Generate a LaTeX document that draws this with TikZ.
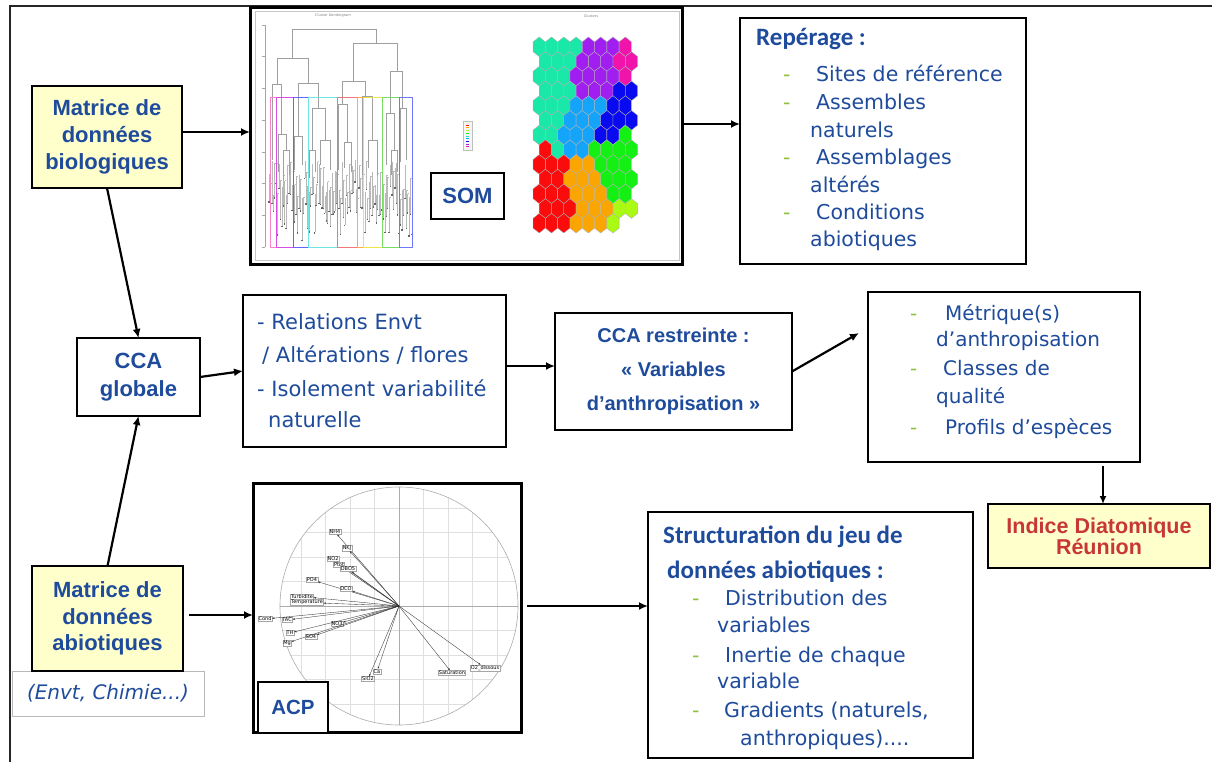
\documentclass[tikz,border=0pt]{standalone}
\usepackage{fontspec}
\setmainfont{DejaVu Sans}
\newfontfamily\lib{Liberation Sans}
\newfontfamily\cbr{Carlito}
\usetikzlibrary{arrows.meta}
\definecolor{tblue}{RGB}{30,75,155}
\definecolor{dgreen}{RGB}{140,195,60}
\definecolor{tred}{RGB}{200,55,55}
\definecolor{yfill}{RGB}{255,255,204}
\definecolor{hT}{RGB}{25,232,168}
\definecolor{hP}{RGB}{160,30,240}
\definecolor{hM}{RGB}{240,20,170}
\definecolor{hB}{RGB}{10,10,240}
\definecolor{hL}{RGB}{20,165,250}
\definecolor{hR}{RGB}{250,12,12}
\definecolor{hO}{RGB}{250,165,0}
\definecolor{hG}{RGB}{20,240,20}
\definecolor{hY}{RGB}{170,250,20}
\newcommand{\dbr}[5]{\draw[dend] (#1,#4) -- (#1,#3) -- (#2,#3) -- (#2,#5);}
\begin{document}
\begin{tikzpicture}[x=1pt,y=-1pt,
  box/.style={draw=black, line width=2.6pt, fill=white, inner sep=0pt, outer sep=0pt},
  ybox/.style={box, fill=yfill},
  arr/.style={line width=2.2pt, -{Latex[length=9pt,width=8pt]}},
  btitle/.style={font=\cbr\bfseries\fontsize{25}{30}\selectfont, text=tblue, anchor=base west, inner sep=0pt},
  item/.style={font=\fontsize{20.5}{24}\selectfont, text=tblue, anchor=base west, inner sep=0pt},
  dsh/.style={font=\fontsize{20.5}{24}\selectfont, text=dgreen, anchor=base west, inner sep=0pt},
  ctext/.style={font=\lib\bfseries\fontsize{22}{27}\selectfont, text=tblue, align=center},
  dend/.style={draw=gray!75, line width=0.5pt},
  pgrid/.style={draw=gray!25, line width=0.4pt},
  paxis/.style={draw=gray!65, line width=0.6pt},
  plab/.style={draw=gray!70, fill=white, font=\fontsize{5}{5.5}\selectfont, inner sep=0.6pt, line width=0.3pt},
  parr/.style={draw=black!80, line width=0.35pt, -{Stealth[length=2.5pt,width=1.8pt]}}
]
\useasboundingbox (0,0) rectangle (1218,762);
\fill[white] (0,0) rectangle (1218,762);
% outer frame
\draw[line width=1.8pt, black!85] (10,762) -- (10,6) -- (1212,6);

% ---------- boxes ----------
\node[ybox, ctext, minimum width=150pt, minimum height=102pt] (bio) at (107,137) {Matrice de\\données\\biologiques};
\node[box, line width=3pt, minimum width=432pt, minimum height=256pt] (som) at (466,136) {};
\node[box, minimum width=286pt, minimum height=246pt] (rep) at (883,141) {};
\node[box, ctext, font=\lib\bfseries\fontsize{22}{28}\selectfont, minimum width=123pt, minimum height=78pt] (cca) at (138.5,377) {CCA\\globale};
\node[box, minimum width=263pt, minimum height=152pt] (rel) at (374.5,371) {};
\node[box, ctext, font=\lib\bfseries\fontsize{20}{34}\selectfont, minimum width=237pt, minimum height=117pt] (ccar) at (673.5,371.5) {CCA restreinte :\\«~Variables\\d’anthropisation~»};
\node[box, minimum width=272pt, minimum height=170pt] (met) at (1004,377) {};
\node[ybox, ctext, font=\lib\bfseries\fontsize{21.5}{21}\selectfont, text=tred, minimum width=222pt, minimum height=64pt] (idr) at (1099,536) {Indice Diatomique\\Réunion};
\node[box, line width=3pt, minimum width=268pt, minimum height=249pt] (acp) at (387,607.5) {};
\node[box, minimum width=325pt, minimum height=246pt] (str) at (810.5,635) {};
\node[draw=gray!55, line width=1pt, fill=white, minimum width=192pt, minimum height=45pt, inner sep=0pt,
      font=\itshape\fontsize{20}{24}\selectfont, text=tblue, text depth=4pt] (env) at (108,693.5) {(Envt, Chimie...)};
\node[ybox, ctext, font=\lib\bfseries\fontsize{22}{26.5}\selectfont, minimum width=151pt, minimum height=105pt] (abi) at (107.5,618.5) {Matrice de\\données\\abiotiques};

% ---------- SOM picture ----------
\draw[gray!45, line width=0.6pt] (255,11) rectangle (679,260);
\node[font=\fontsize{3.5}{4}\selectfont, text=gray, inner sep=0pt] (dtitle) at (333,16) {Cluster Dendrogram};
\node[font=\fontsize{3.5}{4}\selectfont, text=gray, inner sep=0pt] (htitle) at (591,16) {Clusters};
% dendrogram axis
\draw[gray!70, line width=0.5pt] (265,25) -- (265,247);
\foreach \t in {0,...,7} { \draw[gray!70, line width=0.5pt] (262,{25+31.7*\t}) -- (265,{25+31.7*\t}); }
% leaves
\pgfmathsetseed{12}
\foreach \i in {0,...,100} {
  \pgfmathsetmacro{\lx}{269+1.43*\i}
  \pgfmathsetmacro{\lt}{160+40*rnd}
  \pgfmathsetmacro{\lb}{\lt+15+28*rnd}
  \draw[dend, draw=gray!55] (\lx,\lt) -- (\lx,\lb);
  \draw[dend, draw=gray!55] (\lx,\lt) -- ({\lx+1.43},\lt);
  \fill[black!60] ({\lx-0.7},\lb) rectangle ({\lx+0.7},{\lb+1.4});
}
% brackets
\foreach \a/\b/\c/\d/\e in {292/376/29/58/43, 277/308/58/84/83, 272/281/84/160/134, 298/318/83/136/108,
  353/397/43/81/71, 342/365/81/104/96, 390/402/71/113/108, 278/286/134/172/150, 294/302/136/170/165,
  312/325/108/150/140, 338/347/104/170/142, 362/372/96/175/140, 386/394/113/165/150, 400/406/108/162/160,
  283/289/150/180/175, 320/330/140/165/170, 344/351/142/168/172, 368/377/140/168/175, 309/315/150/178/172,
  391/397/150/175/172} { \dbr{\a}{\b}{\c}{\d}{\e} }
% cluster rectangles
\foreach \a/\b/\col in {270/276/{255,130,200}, 276/293/{215,80,230}, 293/308/{100,100,255}, 308/337/{110,230,230},
  337/357/{240,120,120}, 357/363/{255,170,60}, 363/382/{240,228,80}, 382/399/{120,220,100}, 399/412/{110,120,250}} {
  \definecolor{tmpc}{RGB}{\col}
  \draw[tmpc, line width=0.7pt] (\a,97) rectangle (\b,247);
}
% legend
\draw[gray!50, fill=gray!8, line width=0.4pt] (463,121) rectangle (472,150);
\foreach \col [count=\j from 0] in {hR,hO,hY,hG,hT,hL,hB,hP,hM} { \draw[\col, line width=0.5pt] (466,{125+2.7*\j}) -- (469,{125+2.7*\j}); }
% hex map
\foreach \rc [count=\r from 0] in {
  {hT,hT,hT,hT,hP,hP,hP,hM},{hT,hT,hT,hP,hP,hP,hM,hM},{hT,hT,hT,hP,hP,hP,hP,hM},{hT,hT,hT,hP,hP,hP,hB,hB},
  {hT,hT,hT,hL,hL,hL,hB,hB},{hT,hT,hL,hL,hL,hB,hB,hB},{hT,hT,hL,hL,hL,hB,hB,hG},{hR,hT,hL,hL,hG,hG,hG,hG},
  {hR,hR,hR,hO,hO,hG,hG,hG},{hR,hR,hO,hO,hO,hG,hG,hG},{hR,hR,hR,hO,hO,hO,hG,hG},{hR,hR,hR,hO,hO,hO,hY,hY},
  {hR,hR,hR,hO,hO,hO,hY}} {
  \pgfmathsetmacro{\oy}{46.8+14.7*\r}
  \pgfmathsetmacro{\ox}{539.2+6.15*mod(\r,2)}
  \foreach \cc [count=\k from 0] in \rc {
    \pgfmathsetmacro{\cx}{\ox+12.3*\k}
    \filldraw[fill=\cc, draw=gray!60, line width=0.35pt] (\cx,\oy) ++(0,-9.8) -- ++(6.15,4.9) -- ++(0,9.8) -- ++(-6.15,4.9) -- ++(-6.15,-4.9) -- ++(0,-9.8) -- cycle;
  }
}
\node[box, font=\lib\bfseries\fontsize{22}{26}\selectfont, text=tblue, minimum width=73pt, minimum height=46pt] (soml) at (467.5,196) {SOM};

% ---------- ACP picture ----------
\begin{scope}
  \clip (399,606) circle [radius=119];
  \foreach \k in {-5,...,5} {
    \draw[pgrid] ({399+24.5*(\k)},480) -- ({399+24.5*(\k)},730);
    \draw[pgrid] (275,{606+24.5*(\k)}) -- (522,{606+24.5*(\k)});
  }
\end{scope}
\draw[paxis] (399,606) circle [radius=119];
\draw[paxis] (280,606) -- (518,606);
\draw[paxis] (399,487) -- (399,725);
\coordinate (pc) at (399,606);
\foreach \nm/\px/\py/\tx in {NH4/335/532/NH4, NKJ/347/548/NKJ, NO2/333/559/NO2, Ptot/339/565/Ptot, DBO5/348/569/DBO5,
  PO4/312/580/PO4, DCO/346/589/DCO, Turb/302/596.5/Turbidite, Temp/307/602.5/Temperature, Cond/265/619/Cond,
  TAC/287/620/TAC, NO3/337/624/NO3, TH/290/633/TH, SO4/311/637/SO4, Mg/287/643/Mg, Ca/377/671.5/Ca,
  SiO2/368/679/SiO2, Sat/452/673/Saturation, O2/485/668/O2\_dissous} {
  \node[plab] (v\nm) at (\px,\py) {\tx};
  \draw[parr] (pc) -- (v\nm);
}
\node[box, font=\lib\bfseries\fontsize{20.5}{24}\selectfont, text=tblue, minimum width=70pt, minimum height=51pt] (acpl) at (293,707.5) {ACP};

% ---------- Repérage text ----------
\node[btitle] (repT) at (756,46) {Repérage :};
\node[dsh] (rd1) at (783,82) {-};   \node[item] (r1) at (816,82) {Sites de référence};
\node[dsh] (rd2) at (783,110) {-};  \node[item] (r2) at (816,110) {Assembles};
                                     \node[item] (r3) at (810,137.5) {naturels};
\node[dsh] (rd3) at (783,165) {-};  \node[item] (r4) at (816,165) {Assemblages};
                                     \node[item] (r5) at (810,192.5) {altérés};
\node[dsh] (rd4) at (783,220) {-};  \node[item] (r6) at (816,220) {Conditions};
                                     \node[item] (r7) at (810,247) {abiotiques};

% ---------- Relations text ----------
\node[item, font=\fontsize{21}{24}\selectfont] (l1) at (257,329) {- Relations Envt};
\node[item, font=\fontsize{21}{24}\selectfont] (l2) at (262,362) {/ Altérations / flores};
\node[item, font=\fontsize{21}{24}\selectfont] (l3) at (257,396) {- Isolement variabilité};
\node[item, font=\fontsize{21}{24}\selectfont] (l4) at (268,427) {naturelle};

% ---------- Métrique text ----------
\node[dsh, font=\fontsize{20}{24}\selectfont] (md1) at (910,320) {-}; \node[item, font=\fontsize{20}{24}\selectfont] (m1) at (945,320) {Métrique(s)};
\node[item, font=\fontsize{20}{24}\selectfont] (m2) at (936,346) {d’anthropisation};
\node[dsh, font=\fontsize{20}{24}\selectfont] (md2) at (910,375) {-}; \node[item, font=\fontsize{20}{24}\selectfont] (m3) at (943,375) {Classes de};
\node[item, font=\fontsize{20}{24}\selectfont] (m4) at (936,403) {qualité};
\node[dsh, font=\fontsize{20}{24}\selectfont] (md3) at (910,434) {-}; \node[item, font=\fontsize{20}{24}\selectfont] (m5) at (945,434) {Profils d’espèces};

% ---------- Structuration text ----------
\node[btitle] (s0) at (663,543) {Structuration du jeu de};
\node[btitle] (s1) at (667,578) {données abiotiques :};
\node[dsh] (sd1) at (692,605) {-}; \node[item] (s2) at (725,605) {Distribution des};
\node[item] (s3) at (717,632) {variables};
\node[dsh] (sd2) at (692,662) {-}; \node[item] (s4) at (725,662) {Inertie de chaque};
\node[item] (s5) at (717,688) {variable};
\node[dsh] (sd3) at (692,717) {-}; \node[item] (s6) at (724,717) {Gradients (naturels,};
\node[item] (s7) at (740,745) {anthropiques)....};

% ---------- connectors ----------
\draw[arr] ([yshift=5pt]bio.east) -- ([yshift=5pt]bio.east -| som.west);
\draw[arr] ([yshift=12pt]som.east) -- ([yshift=12pt]som.east -| rep.west);
\draw[arr] (bio.south) -- (cca.north);
\draw[arr] (abi.north) -- (cca.south);
\draw[arr] (cca.east) -- (rel.west);
\draw[arr] ([yshift=5pt]rel.east) -- ([yshift=5pt]rel.east -| ccar.west);
\coordinate (metin) at (859,333);
\draw[arr] (ccar.east) -- (metin);
\coordinate (mtop) at (1103,466);
\draw[line width=1.8pt, -{Latex[length=8pt,width=7pt]}] (mtop) -- (mtop |- idr.north);
\draw[arr, shorten <=6pt] ([yshift=3.5pt]abi.east) -- ([yshift=3.5pt]abi.east -| acp.west);
\draw[arr, shorten <=6pt] ([yshift=1.5pt]acp.east) -- ([yshift=1.5pt]acp.east -| str.west);
\end{tikzpicture}
\end{document}
